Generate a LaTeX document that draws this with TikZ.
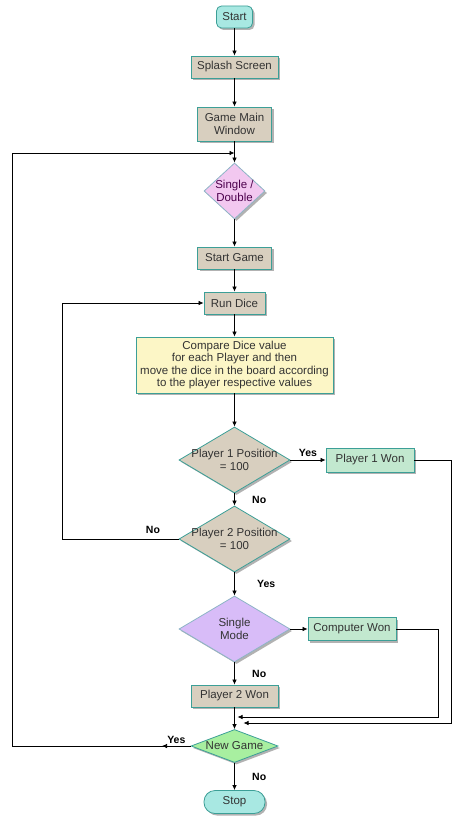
\documentclass[tikz,border=0pt]{standalone}
\usepackage{fontspec}
\setmainfont{Liberation Sans}
\usetikzlibrary{shapes.geometric,arrows.meta,shadows}
\definecolor{termfill}{HTML}{A8E8E2}
\definecolor{tealline}{HTML}{3C9F97}
\definecolor{tanfill}{HTML}{D8CFBF}
\definecolor{pinkfill}{HTML}{F2C8F0}
\definecolor{blueline}{HTML}{8DB4C6}
\definecolor{yellowfill}{HTML}{FCF6C6}
\definecolor{wonfill}{HTML}{C2E8CF}
\definecolor{lavfill}{HTML}{D8BCF8}
\definecolor{ngfill}{HTML}{A8EFA0}
\definecolor{darktext}{HTML}{333333}

\begin{document}
\begin{tikzpicture}[x=1pt,y=-1pt,
  every node/.style={font=\fontsize{11.5}{12.5}\selectfont, text=darktext},
  shd/.style={drop shadow={shadow xshift=2pt, shadow yshift=-2pt, fill=black!30, opacity=1}},
  proc/.style={draw=tealline, line width=0.8pt, fill=tanfill, minimum height=22pt, inner sep=0pt, align=center, shd},
  term/.style={proc, fill=termfill, rounded corners=5pt},
  dia/.style={diamond, draw=tealline, line width=0.8pt, inner sep=0pt, shd},
  lbl/.style={font=\bfseries\fontsize{10.5}{12}\selectfont, text=black},
  arr/.style={-{Latex[length=5pt,width=4.5pt]}, line width=0.7pt}]
\useasboundingbox (0,0) rectangle (459,818);

% main column
\node[term, minimum width=36pt] (start) at (234.5,17) {Start};
\node[proc, minimum width=87pt] (splash) at (234.5,67) {Splash Screen};
\node[proc, minimum width=74pt, minimum height=34pt] (gmw) at (234.5,124) {Game Main\\Window};
\node[dia, fill=pinkfill, draw=blueline, minimum width=61pt, minimum height=56pt,
  label={[align=center, text=violet!60!black]center:Single /\\Double}] (sd) at (234.5,191) {};
\node[proc, minimum width=74pt] (sg) at (234.5,258) {Start Game};
\node[proc, minimum width=61pt] (dice) at (234.5,303) {Run Dice};
\node[proc, fill=yellowfill, minimum width=197pt, minimum height=56pt] (cmp) at (234.5,365)
  {Compare Dice value\\for each Player and then\\move the dice in the board according\\to the player respective values};
\node[dia, fill=tanfill, minimum width=111pt, minimum height=66pt,
  label={[align=center]center:Player 1 Position\\= 100}] (p1) at (234.5,460) {};
\node[dia, fill=tanfill, minimum width=111pt, minimum height=66pt,
  label={[align=center]center:Player 2 Position\\= 100}] (p2) at (234.5,539) {};
\node[dia, fill=lavfill, draw=blueline, minimum width=111pt, minimum height=66pt,
  label={[align=center]center:Single\\Mode}] (sm) at (234.5,629) {};
\node[proc, minimum width=87pt] (p2w) at (234.5,696) {Player 2 Won};
\node[dia, fill=ngfill, minimum width=87pt, minimum height=33pt,
  label=center:New Game] (ng) at (234.5,746) {};
\node[term, minimum width=61pt, minimum height=23pt, rounded corners=11pt] (stop) at (234.5,802) {Stop};

% winners
\node[proc, fill=wonfill, minimum width=88pt, minimum height=24pt] (p1w) at (370,460) {Player 1 Won};
\node[proc, fill=wonfill, minimum width=88pt, minimum height=23pt] (cw) at (352,629) {Computer Won};

% corner points of the connectors
\coordinate (j1) at (234.5,153);
\coordinate (lx) at (12,746);
\coordinate (lp) at (62,303);
\coordinate (yarr) at (162,746);
\coordinate (c1) at (438,717);
\coordinate (m1) at (237.5,717);
\coordinate (c2) at (451,723);
\coordinate (m2) at (243.5,723);

\draw[arr] (start) -- (splash);
\draw[arr] (splash) -- (gmw);
\draw[arr] (gmw) -- (sd);
\draw[arr] (sd) -- (sg);
\draw[arr] (sg) -- (dice);
\draw[arr] (dice) -- (cmp);
\draw[arr] (cmp) -- (p1);
\draw[arr] (p1) -- node[lbl, above]{Yes} (p1w);
\draw[arr] (p1) -- node[lbl, right=14pt]{No} (p2);
\draw[arr] (p2) -- node[lbl, right=19pt]{Yes} (sm);
\draw[arr] (p2.west) -- node[lbl, pos=0.22, above=2pt]{No} (p2.west -| lp) |- (dice.west);
\draw[arr] (sm) -- (cw);
\draw[arr] (sm) -- node[lbl, right=14pt]{No} (p2w);
\draw[arr] (p2w) -- (ng);
\draw[arr] (cw.east) -| (c1) -- (m1);
\draw[arr] (p1w.east) -| (c2) -- (m2);
\draw[arr] (ng) -- node[lbl, right=14pt]{No} (stop);
\draw[arr] (ng.west) -- node[lbl, above=-1pt, pos=0.5]{Yes} (yarr);
\draw[arr] (ng.west) -- (lx) |- (j1);
\end{tikzpicture}
\end{document}
